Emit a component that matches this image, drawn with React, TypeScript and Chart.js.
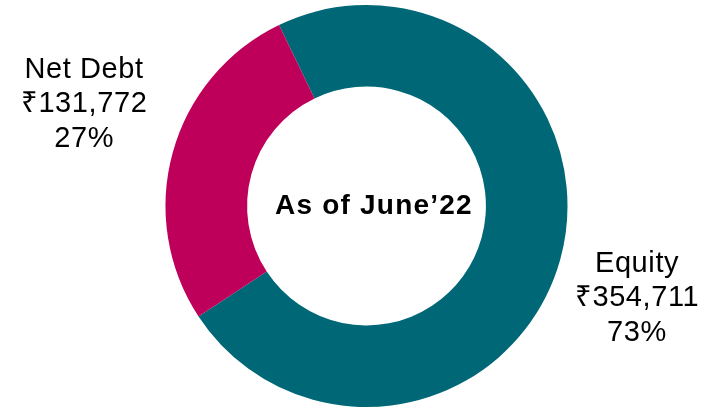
import React, { useEffect, useRef } from "react";
import { Chart, registerables } from "chart.js";

Chart.register(...registerables);

const categories = ["Equity", "Net Debt"];
const amounts = [354711, 131772];
const amountLabels = ["₹354,711", "₹131,772"];
const percentLabels = ["73%", "27%"];
const colors = ["#006776", "#BE005A"];
const centerText = "As of June’22";

// label anchors as multiples of outer radius relative to donut centre (x centre, first baseline)
const labelAnchors = [
  { x: 1.346, y: 0.328 },
  { x: -1.405, y: -0.637 },
];

const labelPlugin = {
  id: "donutLabels",
  afterDatasetsDraw(chart: any) {
    const meta = chart.getDatasetMeta(0);
    const first = meta.data[0];
    if (!first) return;
    const { x: cx, y: cy, outerRadius: r } = first.getProps(["x", "y", "outerRadius"], true);
    const ctx = chart.ctx;
    ctx.save();
    ctx.fillStyle = "#000";
    ctx.textAlign = "center";
    ctx.textBaseline = "alphabetic";
    ctx.font = "29px 'Liberation Sans', Arial, sans-serif";
    (ctx as any).letterSpacing = "0.6px";
    const lh = 34.5;
    categories.forEach((c, i) => {
      const ax = cx + labelAnchors[i].x * r;
      const ay = cy + labelAnchors[i].y * r;
      [c, amountLabels[i], percentLabels[i]].forEach((t, j) => {
        ctx.fillText(t, ax, ay + j * lh);
      });
    });
    ctx.font = "bold 28px 'Liberation Sans', Arial, sans-serif";
    (ctx as any).letterSpacing = "1.2px";
    ctx.fillText(centerText, cx + 0.037 * r, cy + 0.038 * r);
    ctx.restore();
  },
};

export default function App() {
  const ref = useRef<HTMLCanvasElement>(null);
  useEffect(() => {
    if (!ref.current) return;
    const chart = new Chart(ref.current, {
      type: "doughnut",
      data: {
        labels: categories,
        datasets: [
          {
            data: amounts,
            backgroundColor: colors,
            borderWidth: 0,
            clip: false as any,
          },
        ],
      },
      options: {
        responsive: false,
        maintainAspectRatio: false,
        animation: false,
        devicePixelRatio: 1,
        rotation: -25.8,
        radius: 201,
        cutout: 120,
        layout: { padding: { left: 164, right: 136, top: 4, bottom: -6 } },
        plugins: { legend: { display: false }, tooltip: { enabled: false } },
      },
      plugins: [labelPlugin],
    });
    return () => chart.destroy();
  }, []);
  return (
    <canvas
      ref={ref}
      width={705}
      height={408}
      style={{ position: "fixed", left: 0, top: 0, width: 705, height: 408, background: "#fff" }}
    />
  );
}
